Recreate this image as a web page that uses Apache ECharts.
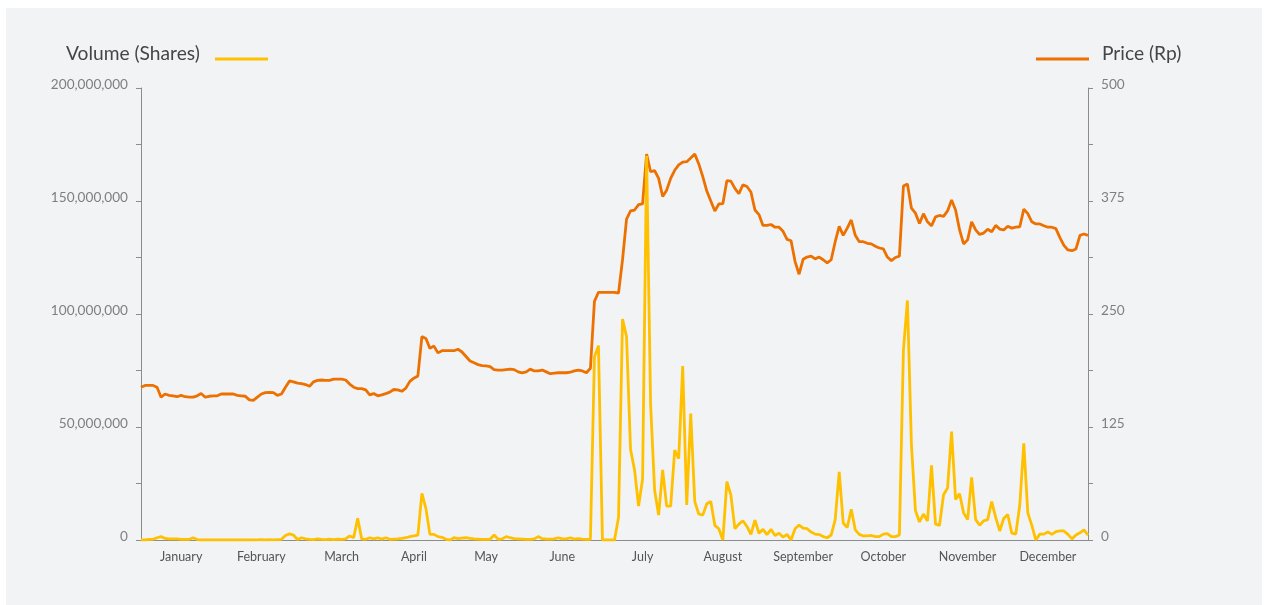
<!DOCTYPE html>
<html>
<head>
<meta charset="utf-8">
<script src="https://cdn.jsdelivr.net/npm/echarts@6/dist/echarts.min.js"></script>
<style>
  html, body { margin: 0; padding: 0; background: #ffffff; }
  #panel { position: absolute; left: 6px; top: 8px; width: 1256px; height: 597px; background: #f2f3f5; }
  #chart { position: absolute; left: 0; top: 0; width: 1267px; height: 605px; }
</style>
</head>
<body>
<div id="panel"></div>
<div id="chart"></div>
<script>
// ---- data ----
const months = ['January','February','March','April','May','June','July','August','September','October','November','December'];
const tradingDaysPerMonth = [21, 19, 20, 17, 18, 21, 19, 21, 19, 21, 20, 21];

// closing price (Rp), one value per trading day
const price = [
  169,171,171,171,169,158,161.5,160,159.5,158.5,
  160,158.5,158,158,159.5,162,158,159,159.5,159.5,
  161.5,161.5,161.5,161.5,160,159.5,159,155,154.5,158,
  161.5,163,163.4,163,160,161.5,169,176,175,173.5,
  173,172,170,175,176.5,177,176.5,176.5,178,178,
  178,177,172.5,169,167.5,167.5,166,160.5,162,159.5,
  160.5,162,163.5,166.5,166,164.5,168,175.5,179,181.5,
  225,223,212,214.5,207,209.4,209.4,209.4,209.4,211,
  208,203,198,196,194,193,192.5,191.8,188.5,188,
  188,188.5,189,188.5,186,185,186,189,187,187,
  188,186,184,184.5,185,185,185,185.6,187,188,
  187,185,190,264,274,274,274,274,274,273,
  310,355,364,365,371,371.7,427,407.4,408.5,400,
  380,387,400,409,415,418,418.5,422.5,427,416,
  402,386,375,364,371.7,372,397.5,397,389,383,
  393,391,385,365,360,348,348,349,346,346,
  341.5,332.6,331,308,294,310.5,313,314,311,313,
  310,306.5,310,330,347,337,345,354,337,330,
  330,328.2,327.6,325,323,322,313,309,312.5,314,
  391.6,393.8,367,361.5,350,361,352,347.5,357.5,359,
  358,364,376,365,343,327.5,332,352,343,338,
  339.5,343.7,341,348,344,343,347,345,346,346.5,
  366,361,352,349.6,349.6,347.6,346,346,344.5,334.5,
  326,320.8,320,322,337,338.5,337
];

// traded volume, millions of shares, one value per trading day
const volumeMillions = [
  0,0,0.3,0.3,1,1.5,0.7,0.5,0.5,0.5,
  0.3,0.3,0.3,1,0.2,0,0,0.1,0,0.1,
  0,0.1,0,0.1,0,0.1,0,0.1,0,0.1,
  0.2,0.1,0.2,0.1,0.2,0.3,2,2.7,2.2,0.2,
  1,0.5,0.3,0.2,0.5,0.3,0.2,0.4,0.2,0.4,
  0.3,0.5,1.8,1,9.6,0.5,0.3,1,0.5,1,
  0.4,1,0.3,0.4,0.5,0.7,1,1.5,1.8,2.2,
  20.6,14,2.5,2.5,1.5,1.2,0.3,0,1,0.6,
  0.8,1,0.7,0.5,0.4,0.3,0.3,0.3,2.2,0.3,
  0.5,1.5,1,0.6,0.5,0.4,0.3,0.3,0.5,1.5,
  0.6,0.4,0.4,0.5,1,0.5,0.5,1,0.4,0.6,
  0.4,0.3,0.3,81,86,0,0,0,0,10,
  97.8,90,40,31,15,27,170,60,22,11,
  31,15,15,39.8,36,77,15.5,56,17,11.5,
  11,16,17,6.5,5,0,25.8,20,5,7,
  8.5,6,2.5,8.8,3,4.7,2.4,4.7,2,3,
  1.3,2.5,0,5,6.6,5.3,5,3.5,2.6,2.4,
  1.5,1,2.2,9,30.2,7.5,5.5,13.6,4.5,2.5,
  1.8,1.8,2,1.5,1.5,2.6,2.8,1.5,1.5,2.2,
  84,106,42,13,8,11.5,8.4,33,7,6.5,
  20,23,48,18,20.5,12,9,27.7,9,6.5,
  8.5,9,17,10,4,9.5,11.3,3,2.6,15.5,
  42.8,12,6.5,0,2.6,2.6,3.5,2.5,3.7,4,
  4,2.5,0.5,2.2,3.2,4.5,2.2
];

const volumeTicks = [0, 50000000, 100000000, 150000000, 200000000];
const priceTicks = [0, 125, 250, 375, 500];

// ---- build categories (one per trading day) ----
const days = [];
const labelIndex = new Set();
tradingDaysPerMonth.forEach((n, m) => {
  const start = days.length;
  for (let d = 1; d <= n; d++) days.push(months[m] + ' ' + d);
  labelIndex.add(start + Math.floor(n / 2));
});
const volume = volumeMillions.map(v => v * 1e6);

const FONT = 'Lato, "Open Sans", sans-serif';
const YELLOW = '#ffc000';
const ORANGE = '#ec7100';
const AXIS = '#8c8c8c';

const chart = echarts.init(document.getElementById('chart'), null, { renderer: 'canvas' });
chart.setOption({
  backgroundColor: 'transparent',
  animation: false,
  textStyle: { fontFamily: FONT },
  grid: { left: 141, right: 179, top: 88, bottom: 65, containLabel: false },
  graphic: [
    { type: 'text', left: 66, top: 44, style: { text: 'Volume (Shares)', font: '19.2px ' + FONT, fill: '#454545' } },
    { type: 'line', shape: { x1: 215, y1: 59, x2: 268, y2: 59 }, style: { stroke: YELLOW, lineWidth: 3 } },
    { type: 'line', shape: { x1: 1036, y1: 59, x2: 1089, y2: 59 }, style: { stroke: ORANGE, lineWidth: 3 } },
    { type: 'text', left: 1102, top: 44, style: { text: 'Price (Rp)', font: '19.2px ' + FONT, fill: '#454545' } }
  ],
  xAxis: {
    type: 'category',
    data: days,
    boundaryGap: false,
    axisLine: { lineStyle: { color: AXIS, width: 1 } },
    axisTick: { show: false },
    axisLabel: {
      interval: (idx) => labelIndex.has(idx),
      formatter: (v) => v.split(' ')[0],
      color: '#555555',
      fontSize: 12.5,
      fontFamily: FONT,
      margin: 10
    },
    splitLine: { show: false }
  },
  yAxis: [
    {
      type: 'value',
      min: 0, max: 200000000, interval: 25000000,
      position: 'left',
      axisLine: { show: true, lineStyle: { color: AXIS, width: 1 } },
      axisTick: { show: true, length: 5, lineStyle: { color: AXIS } },
      splitLine: { show: false },
      axisLabel: {
        formatter: (v) => volumeTicks.includes(v) ? v.toLocaleString('en-US') : '',
        color: '#7f7f7f', fontSize: 13.6, fontFamily: FONT, margin: 13,
        verticalAlign: 'bottom', lineHeight: 6
      }
    },
    {
      type: 'value',
      min: 0, max: 500, interval: 62.5,
      position: 'right',
      axisLine: { show: true, lineStyle: { color: AXIS, width: 1 } },
      axisTick: { show: true, length: 5, lineStyle: { color: AXIS } },
      splitLine: { show: false },
      axisLabel: {
        formatter: (v) => priceTicks.includes(v) ? String(v) : '',
        color: '#7f7f7f', fontSize: 13.6, fontFamily: FONT, margin: 13,
        verticalAlign: 'bottom', lineHeight: 6
      }
    }
  ],
  series: [
    {
      name: 'Price (Rp)', type: 'line', yAxisIndex: 1, data: price,
      showSymbol: false, lineStyle: { color: ORANGE, width: 2.8 }, itemStyle: { color: ORANGE }, z: 2
    },
    {
      name: 'Volume (Shares)', type: 'line', yAxisIndex: 0, data: volume,
      showSymbol: false, lineStyle: { color: YELLOW, width: 2.8 }, itemStyle: { color: YELLOW }, z: 3
    }
  ]
});
</script>
</body>
</html>
